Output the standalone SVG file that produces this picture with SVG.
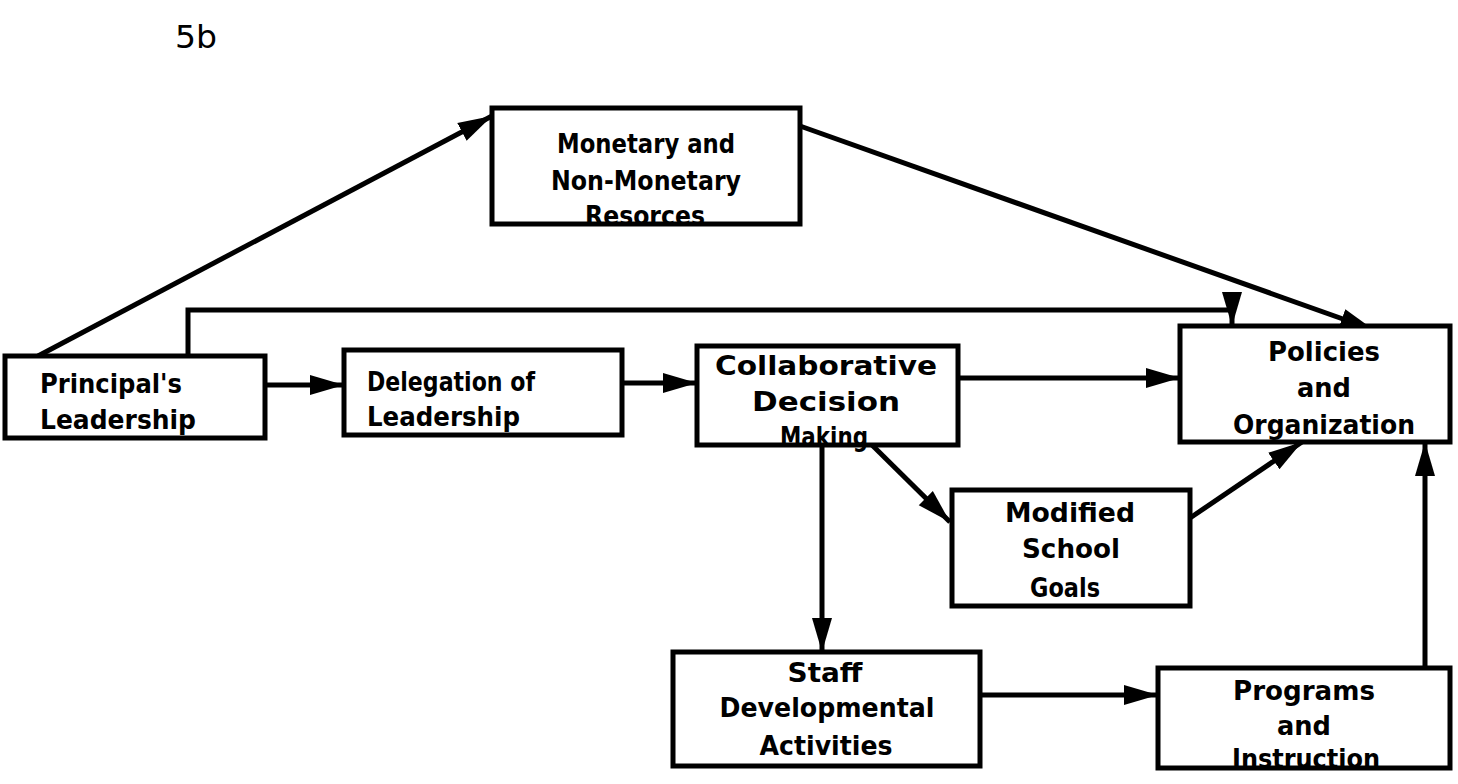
<svg xmlns="http://www.w3.org/2000/svg" width="1458" height="784" viewBox="0 0 1458 784">
<defs>
<marker id="ah" markerUnits="userSpaceOnUse" markerWidth="36" markerHeight="24" refX="34" refY="12" orient="auto">
<path d="M0,2 L34,12 L0,22 z" fill="#000"/>
</marker>
<style>
.box{fill:#fff;stroke:#000;stroke-width:5}
.t{font-family:"DejaVu Sans",sans-serif;font-size:26px;font-weight:bold;fill:#000}
.c{text-anchor:middle}
.ln{fill:none;stroke:#000;stroke-width:5}
</style>
</defs>
<rect width="1458" height="784" fill="#fff"/>
<text class="t" x="175" y="48" style="font-size:32px;font-weight:normal" textLength="42" lengthAdjust="spacingAndGlyphs">5b</text>
<g id="connectors">
<line class="ln" x1="38" y1="356" x2="492" y2="116" marker-end="url(#ah)"/>
<line class="ln" x1="800" y1="126" x2="1374" y2="330" marker-end="url(#ah)"/>
<polyline class="ln" points="188,356 188,310 1232,310 1232,326" marker-end="url(#ah)"/>
<line class="ln" x1="265" y1="385" x2="344" y2="385" marker-end="url(#ah)"/>
<line class="ln" x1="622" y1="383" x2="697" y2="383" marker-end="url(#ah)"/>
<line class="ln" x1="958" y1="378" x2="1180" y2="378" marker-end="url(#ah)"/>
<line class="ln" x1="872" y1="445" x2="950" y2="522" marker-end="url(#ah)"/>
<line class="ln" x1="822" y1="445" x2="822" y2="652" marker-end="url(#ah)"/>
<line class="ln" x1="1190" y1="518" x2="1302" y2="442" marker-end="url(#ah)"/>
<line class="ln" x1="980" y1="695" x2="1158" y2="695" marker-end="url(#ah)"/>
<line class="ln" x1="1425" y1="668" x2="1425" y2="442" marker-end="url(#ah)"/>
</g>
<g id="monetary">
<rect class="box" x="492" y="108" width="308" height="116"/>
<text class="t c" x="646" y="153" textLength="178" lengthAdjust="spacingAndGlyphs">Monetary and</text>
<text class="t c" x="646" y="190" textLength="190" lengthAdjust="spacingAndGlyphs">Non-Monetary</text>
<text class="t c" x="645" y="225" textLength="120" lengthAdjust="spacingAndGlyphs">Resorces</text>
</g>
<g id="principal">
<rect class="box" x="5" y="356" width="260" height="82"/>
<text class="t" x="40" y="393" textLength="142" lengthAdjust="spacingAndGlyphs">Principal's</text>
<text class="t" x="40" y="429" textLength="156" lengthAdjust="spacingAndGlyphs">Leadership</text>
</g>
<g id="delegation">
<rect class="box" x="344" y="350" width="278" height="85"/>
<text class="t" x="367" y="391" textLength="168" lengthAdjust="spacingAndGlyphs">Delegation of</text>
<text class="t" x="367" y="426" textLength="153" lengthAdjust="spacingAndGlyphs">Leadership</text>
</g>
<g id="collaborative">
<rect class="box" x="697" y="346" width="261" height="99"/>
<text class="t c" x="826" y="375" textLength="222" lengthAdjust="spacingAndGlyphs">Collaborative</text>
<text class="t c" x="826" y="411" textLength="148" lengthAdjust="spacingAndGlyphs">Decision</text>
<text class="t c" x="824" y="446" textLength="88" lengthAdjust="spacingAndGlyphs">Making</text>
</g>
<g id="policies">
<rect class="box" x="1180" y="326" width="270" height="116"/>
<text class="t c" x="1324" y="361" textLength="112" lengthAdjust="spacingAndGlyphs">Policies</text>
<text class="t c" x="1324" y="397" textLength="54" lengthAdjust="spacingAndGlyphs">and</text>
<text class="t c" x="1324" y="434" textLength="182" lengthAdjust="spacingAndGlyphs">Organization</text>
</g>
<g id="modified">
<rect class="box" x="952" y="490" width="238" height="116"/>
<text class="t c" x="1070" y="522" textLength="130" lengthAdjust="spacingAndGlyphs">Modified</text>
<text class="t c" x="1071" y="558" textLength="98" lengthAdjust="spacingAndGlyphs">School</text>
<text class="t c" x="1065" y="597" textLength="70" lengthAdjust="spacingAndGlyphs">Goals</text>
</g>
<g id="staff">
<rect class="box" x="673" y="652" width="307" height="114"/>
<text class="t c" x="825" y="682" textLength="75" lengthAdjust="spacingAndGlyphs">Staff</text>
<text class="t c" x="827" y="717" textLength="215" lengthAdjust="spacingAndGlyphs">Developmental</text>
<text class="t c" x="826" y="755" textLength="133" lengthAdjust="spacingAndGlyphs">Activities</text>
</g>
<g id="programs">
<rect class="box" x="1158" y="668" width="292" height="100"/>
<text class="t c" x="1304" y="700" textLength="142" lengthAdjust="spacingAndGlyphs">Programs</text>
<text class="t c" x="1304" y="735" textLength="54" lengthAdjust="spacingAndGlyphs">and</text>
<text class="t c" x="1306" y="768" textLength="148" lengthAdjust="spacingAndGlyphs">Instruction</text>
</g>
</svg>
